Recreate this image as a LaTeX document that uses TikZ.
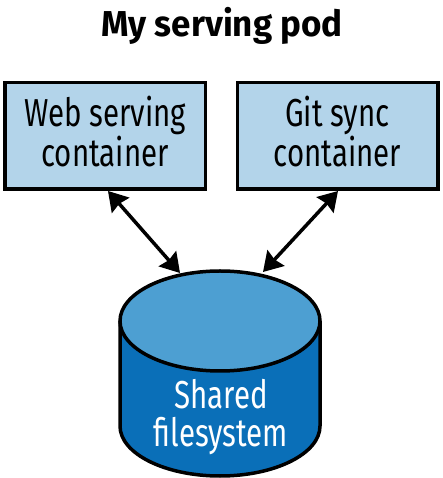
\documentclass[tikz,border=0pt]{standalone}
\usepackage{fontspec}
\setmainfont{Fira Sans}[FakeStretch=0.755]
\newfontfamily\titlefont{Fira Sans}[FakeStretch=0.97]
\usetikzlibrary{arrows.meta,positioning,calc}
\definecolor{Ink}{HTML}{000000}
\definecolor{BoxFill}{HTML}{B3D4EA}
\definecolor{DiskTop}{HTML}{4D9FD2}
\definecolor{DiskBody}{HTML}{0A6FB8}

\begin{document}
\begin{tikzpicture}[x=1pt,y=1pt,>={Stealth[length=19pt,width=23pt,inset=2pt]},
  podbox/.style={draw=Ink,fill=BoxFill,line width=3.5pt,minimum width=200.5pt,minimum height=106.5pt,
    align=center,font=\fontsize{39}{38}\selectfont,inner sep=0pt,text depth=9pt},
  link/.style={<->,Ink,line width=3.5pt}]
\useasboundingbox (0,0) rectangle (442,478);
\node[anchor=base,font=\titlefont\bfseries\fontsize{36}{40}\selectfont] (title) at (222,441) {My serving pod};
\node[podbox] (web) at (105,342) {Web serving\\container};
\node[podbox] (git) at (337.5,342) {Git sync\\container};
% shared filesystem
\fill[DiskBody] (120,157) -- (120,52) arc[start angle=180,end angle=360,x radius=100,y radius=50] -- (320,157) -- cycle;
\fill[DiskTop] (220,157) ellipse[x radius=100,y radius=50];
\draw[Ink,line width=3.5pt] (120,157) -- (120,52) arc[start angle=180,end angle=360,x radius=100,y radius=50] -- (320,157);
\draw[Ink,line width=3.5pt] (220,157) ellipse[x radius=100,y radius=50];
\node[text=white,align=center,font=\fontsize{39}{38}\selectfont] (fs) at (221,61) {Shared\\filesystem};
\coordinate (fsl) at (180,205);
\coordinate (fsr) at (263,206);
\draw[link] ($(web.south)+(3,0)$) -- (fsl);
\draw[link] ($(git.south)+(0.5,0)$) -- (fsr);
\end{tikzpicture}
\end{document}
